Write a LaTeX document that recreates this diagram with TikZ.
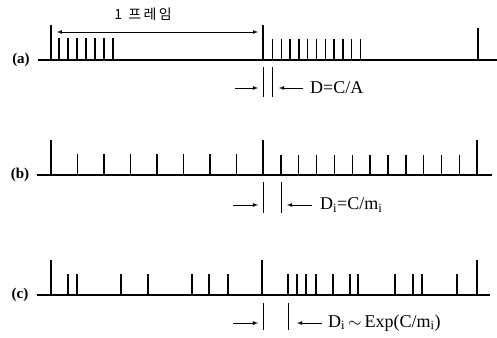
\documentclass[tikz,border=0pt]{standalone}
\usepackage{fontspec}
\setmainfont{Liberation Serif}
\newfontfamily\krfont{Noto Sans CJK KR}
\usetikzlibrary{arrows.meta}

\begin{document}
\begin{tikzpicture}[x=1pt, y=-1pt,
  axis/.style={line width=1.8pt},
  spike/.style={line width=1.5pt},
  markline/.style={line width=0.8pt},
  rowlbl/.style={font=\bfseries\fontsize{15}{15}\selectfont},
  eqn/.style={anchor=west, inner sep=0pt, font=\fontsize{18}{18}\selectfont}]
\useasboundingbox (0,0) rectangle (497,337);

% (a) frame: tall pulse per frame, short pulses for the slots
\node[rowlbl] (la) at (21,60) {(a)};
\coordinate (a0) at (38,60);
\coordinate (a1) at (497,60);
\draw[axis] (a0) -- (a1);
\foreach \xi/\top in {51/25, 263/25, 478/28}{
  \draw[spike] (\xi,60) -- (\xi,\top);
}
\foreach \k in {0,...,6}{
  \draw[spike] (59+9*\k,60) -- (59+9*\k,38);
}
\foreach \k in {0,...,10}{
  \draw[spike] (272.5+8.8*\k,60) -- (272.5+8.8*\k,39);
}
% one frame length
\coordinate (fl) at (57,32);
\coordinate (fr) at (258,32);
\draw[-latex, line width=0.7pt] (157,32) -- (fl);
\draw[-latex, line width=0.7pt] (157,32) -- (fr);
\node[font=\krfont\fontsize{14}{14}\selectfont] (frame) at (143,14) {1\ \ 프\,레\,임};
% gap D=C/A
\coordinate (da0) at (235,88);
\coordinate (da1) at (258,88);
\coordinate (da2) at (303,88);
\coordinate (da3) at (279,88);
\draw[-latex, markline] (da0) -- (da1);
\draw[markline] (263,67) -- (263,97);
\draw[markline] (272,67) -- (272,97);
\draw[-latex, markline] (da2) -- (da3);
\node[eqn] (eqa) at (310,88) {D=C/A};

% (b) regular pulses
\node[rowlbl] (lb) at (20,175) {(b)};
\coordinate (b0) at (37,175);
\coordinate (b1) at (492,175);
\draw[axis] (b0) -- (b1);
\foreach \xi in {51, 263, 477}{
  \draw[spike] (\xi,175) -- (\xi,140);
}
\foreach \k in {1,...,7}{
  \draw[spike] (51+26.5*\k,175) -- (51+26.5*\k,154);
}
\foreach \k in {1,...,11}{
  \draw[spike] (263+17.85*\k,175) -- (263+17.85*\k,155);
}
% gap D_i=C/m_i
\coordinate (db0) at (233,205);
\coordinate (db1) at (258,205);
\coordinate (db2) at (312,205);
\coordinate (db3) at (287,205);
\draw[-latex, markline] (db0) -- (db1);
\draw[markline] (263,182) -- (263,213);
\draw[markline] (281,182) -- (281,213);
\draw[-latex, markline] (db2) -- (db3);
\node[eqn] (eqb) at (320,205) {D\textsubscript{i}=C/m\textsubscript{i}};

% (c) random pulses
\node[rowlbl] (lc) at (20,295) {(c)};
\coordinate (c0) at (37,295);
\coordinate (c1) at (490,295);
\draw[axis] (c0) -- (c1);
\foreach \xi in {51, 262, 477}{
  \draw[spike] (\xi,295) -- (\xi,260);
}
\foreach \xi in {68,77,121,148,192,209,228,288,297,306,316,333,350,358,395,413,422,457}{
  \draw[spike] (\xi,295) -- (\xi,274);
}
% gap D_i ~ Exp(C/m_i)
\coordinate (dc0) at (233,323);
\coordinate (dc1) at (258,323);
\coordinate (dc2) at (322,323);
\coordinate (dc3) at (297,323);
\draw[-latex, markline] (dc0) -- (dc1);
\draw[markline] (263,303) -- (263,330);
\draw[markline] (288,303) -- (288,330);
\draw[-latex, markline] (dc2) -- (dc3);
\node[eqn] (eqc) at (328,323) {D\textsubscript{i}\,$\sim$\,Exp(C/m\textsubscript{i})};
\end{tikzpicture}
\end{document}
